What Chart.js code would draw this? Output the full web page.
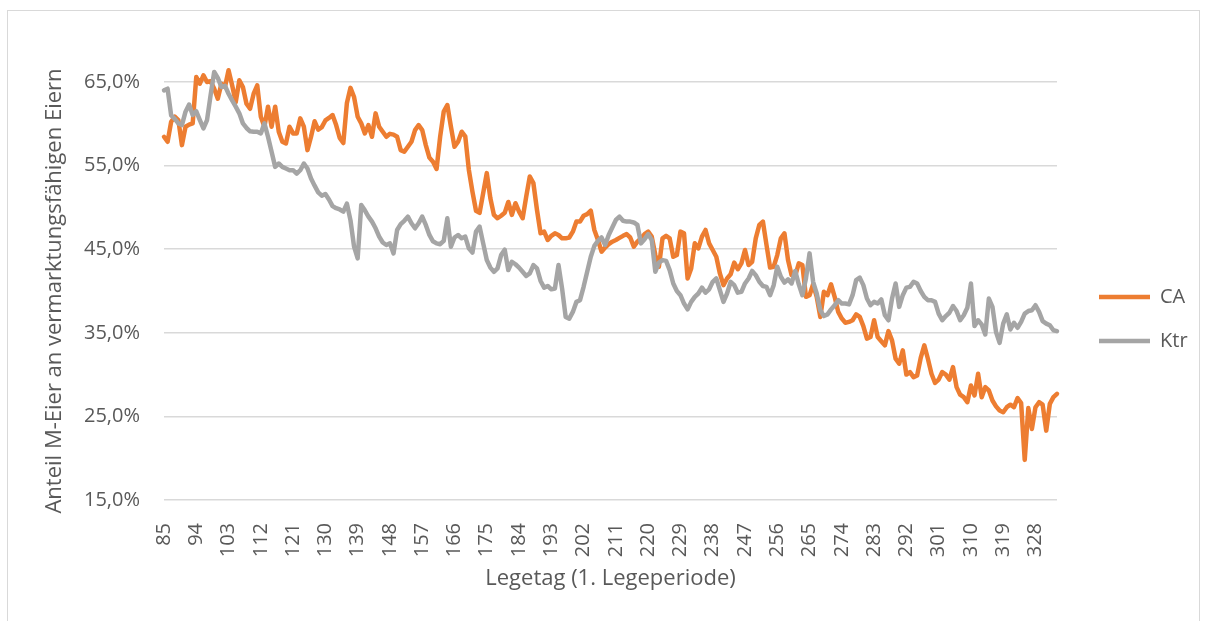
<!DOCTYPE html>
<html lang="de">
<head>
<meta charset="utf-8">
<title>Anteil M-Eier an vermarktungsfähigen Eiern</title>
<script src="https://cdn.jsdelivr.net/npm/chart.js@4.4.1/dist/chart.umd.min.js"></script>
<style>
    html, body { margin: 0; padding: 0; background: #fff; }
    body { width: 1208px; height: 621px; overflow: hidden; position: relative; }
    #frame { position: absolute; left: 7px; top: 10px; width: 1193px; height: 700px; border: 1px solid #d9d9d9; box-sizing: border-box; }
    #wrap { position: absolute; left: 0; top: 0; width: 1208px; height: 621px; }
</style>
</head>
<body>
<div id="frame"></div>
<div id="wrap"><canvas id="chartEggs" width="1208" height="621"></canvas></div>
<script>
// Legetag 85 .. 334, one value per day
const firstDay = 85;
const tickEvery = 9;

const ca = [
    58.45, 57.85, 60.25, 60.85, 60.45, 57.45, 59.65, 59.9, 60.05, 65.6,
    64.8, 65.8, 65.0, 65.1, 64.2, 63.0, 64.8, 64.4, 66.4, 64.6,
    62.6, 65.2, 64.4, 62.4, 61.8, 63.6, 64.6, 60.85, 59.65, 62.05,
    59.65, 62.05, 59.05, 57.85, 57.65, 59.65, 58.85, 58.85, 60.65, 59.65,
    56.85, 58.45, 60.3, 59.3, 59.6, 60.4, 60.7, 61.05, 59.85, 58.3,
    57.7, 62.5, 64.3, 63.2, 60.85, 60.05, 58.85, 59.85, 58.45, 61.25,
    59.65, 59.05, 58.45, 58.8, 58.7, 58.45, 56.85, 56.65, 57.25, 57.85,
    59.25, 59.85, 59.25, 57.45, 55.95, 55.45, 54.6, 58.45, 61.45, 62.25,
    59.65, 57.25, 57.85, 59.05, 58.5, 54.5, 51.9, 49.6, 49.35, 51.7,
    54.1, 51.1, 49.1, 48.7, 49.0, 49.35, 50.65, 49.1, 50.5, 49.5,
    48.7, 51.3, 53.7, 52.9, 49.7, 46.9, 47.1, 46.1, 46.6, 46.9,
    46.7, 46.3, 46.3, 46.4, 47.1, 48.3, 48.3, 49.0, 49.2, 49.6,
    47.3, 46.1, 44.7, 45.2, 45.6, 45.9, 46.1, 46.35, 46.6, 46.8,
    46.4, 45.3, 45.9, 46.3, 46.8, 47.1, 46.5, 44.3, 42.9, 46.3,
    46.6, 46.3, 44.1, 44.3, 47.1, 46.9, 41.5, 42.7, 45.7, 45.1,
    46.5, 47.3, 45.7, 44.9, 44.1, 42.1, 40.7, 41.5, 42.0, 43.4,
    42.6, 43.3, 44.9, 43.1, 43.5, 46.3, 47.9, 48.3, 45.5, 42.8,
    42.9, 44.3, 46.3, 46.9, 43.7, 41.9, 41.8, 43.3, 43.1, 39.3,
    39.5, 40.8, 39.3, 36.9, 39.9, 39.5, 40.8, 39.3, 37.5, 36.7,
    36.2, 36.3, 36.5, 37.2, 36.9, 35.8, 34.3, 34.5, 36.5, 34.5,
    34.0, 33.5, 35.2, 34.1, 31.9, 31.3, 32.9, 30.0, 30.3, 29.7,
    29.9, 32.0, 33.5, 31.9, 30.1, 29.0, 29.4, 30.3, 30.0, 29.4,
    30.9, 28.5, 27.6, 27.3, 26.7, 28.7, 27.5, 30.1, 27.3, 28.5,
    28.1, 26.9, 26.2, 25.7, 25.5, 26.1, 26.4, 26.1, 27.2, 26.6,
    19.8, 26.0, 23.5, 26.1, 26.7, 26.4, 23.3, 26.5, 27.3, 27.7
];

const ktr = [
    64.0, 64.2, 61.0, 60.6, 60.05, 59.85, 61.45, 62.3, 61.05, 61.5,
    60.45, 59.45, 60.45, 63.45, 66.2, 65.5, 64.4, 64.55, 63.6, 62.8,
    62.05, 61.25, 60.05, 59.5, 59.1, 59.05, 59.05, 58.85, 60.05, 58.45,
    56.65, 54.85, 55.25, 54.85, 54.65, 54.45, 54.45, 54.05, 54.45, 55.25,
    54.65, 53.45, 52.6, 51.8, 51.4, 51.6, 50.95, 50.15, 49.9, 49.75,
    49.5, 50.45, 48.45, 45.3, 43.9, 50.3, 49.65, 48.9, 48.3, 47.5,
    46.5, 45.8, 45.5, 45.7, 44.5, 47.3, 48.0, 48.4, 48.9, 48.1,
    47.5, 48.1, 48.9, 47.9, 46.7, 45.95, 45.7, 45.6, 46.0, 48.7,
    45.3, 46.4, 46.7, 46.3, 46.5, 45.1, 44.6, 47.1, 47.7, 45.7,
    43.7, 42.8, 42.3, 42.7, 44.3, 44.95, 42.5, 43.5, 43.2, 42.8,
    42.3, 41.8, 42.1, 43.1, 42.7, 41.2, 40.4, 40.6, 40.2, 40.3,
    43.1, 40.3, 36.9, 36.7, 37.5, 38.7, 38.9, 40.5, 42.3, 44.1,
    45.4, 46.0, 46.4, 45.5, 46.7, 47.6, 48.5, 48.9, 48.4, 48.3,
    48.3, 48.2, 47.9, 45.7, 46.2, 46.8, 46.1, 42.3, 43.4, 43.7,
    43.6, 42.5, 40.9, 40.0, 39.5, 38.5, 37.8, 38.7, 39.3, 39.7,
    40.4, 39.8, 40.2, 41.1, 41.5, 40.1, 38.7, 39.7, 41.1, 40.7,
    39.8, 39.9, 40.9, 41.5, 42.4, 41.9, 41.1, 40.6, 40.5, 39.5,
    40.7, 42.9, 41.7, 41.0, 41.4, 40.9, 42.4, 40.8, 39.5, 41.5,
    44.5, 41.1, 39.7, 37.7, 37.0, 37.2, 37.8, 38.3, 38.9, 38.5,
    38.5, 38.4, 39.5, 41.3, 41.6, 40.7, 39.1, 38.3, 38.7, 38.5,
    39.0, 37.1, 36.5, 39.1, 40.9, 38.1, 39.5, 40.4, 40.5, 41.1,
    40.9, 40.0, 39.3, 38.9, 38.9, 38.7, 37.3, 36.5, 37.0, 37.4,
    38.2, 37.6, 36.5, 37.1, 38.0, 40.9, 35.8, 36.5, 36.0, 34.8,
    39.1, 38.1, 35.1, 33.8, 36.1, 37.2, 35.4, 36.2, 35.6, 36.3,
    37.3, 37.6, 37.7, 38.3, 37.5, 36.4, 36.1, 35.9, 35.3, 35.2
];

const days = ca.map((v, i) => String(firstDay + i));

const fontFamily = "'Open Sans', sans-serif";
const textColor = '#595959';
const gridColor = '#d9d9d9';

// target plot box
const plotLeft = 164;
const plotRight = 1057;
const plotBottom = 500;
const pad = {left: 30, top: 82, right: 8, bottom: 20};

// the legend sits a bit away from the plot and a little above the middle
const legendPlacer = {
    id: 'legendPlacer',
    afterLayout(chart) {
        const lg = chart.legend;
        if (!lg) {
            return;
        }
        const w = lg.right - lg.left;
        const h = lg.bottom - lg.top;
        lg.left = chart.chartArea.right + 18;
        lg.right = lg.left + w;
        lg.top = 319 - h / 2;
        lg.bottom = lg.top + h;
    }
};

const chart = new Chart(document.getElementById('chartEggs').getContext('2d'), {
    type: 'line',
    data: {
        labels: days,
        datasets: [
            {
                label: 'CA',
                data: ca,
                borderColor: '#ED7D31',
                backgroundColor: '#ED7D31',
                borderWidth: 4.5,
                borderJoinStyle: 'round',
                borderCapStyle: 'round',
                pointRadius: 0,
                pointHoverRadius: 0,
                tension: 0,
                fill: false,
                clip: false,
                order: 1,
            },
            {
                label: 'Ktr',
                data: ktr,
                borderColor: '#A5A5A5',
                backgroundColor: '#A5A5A5',
                borderWidth: 4.5,
                borderJoinStyle: 'round',
                borderCapStyle: 'round',
                pointRadius: 0,
                pointHoverRadius: 0,
                tension: 0,
                fill: false,
                clip: false,
                order: 0,
            }
        ]
    },
    options: {
        responsive: false,
        devicePixelRatio: 1,
        animation: false,
        layout: {padding: pad},
        plugins: {
            tooltip: {enabled: false},
            legend: {
                position: 'right',
                labels: {
                    usePointStyle: true,
                    pointStyle: 'line',
                    pointStyleWidth: 51,
                    padding: 24,
                    color: textColor,
                    font: {family: fontFamily, size: 20},
                    sort: (a, b) => a.datasetIndex - b.datasetIndex,
                },
            },
        },
        scales: {
            x: {
                grid: {display: false},
                border: {display: false},
                ticks: {
                    autoSkip: false,
                    minRotation: 90,
                    maxRotation: 90,
                    padding: 15,
                    color: textColor,
                    font: {family: fontFamily, size: 20},
                    callback: function (value, index) {
                        return index % tickEvery === 0 ? this.getLabelForValue(value) : '';
                    },
                },
                title: {
                    display: true,
                    text: 'Legetag (1. Legeperiode)',
                    color: textColor,
                    font: {family: fontFamily, size: 22},
                    padding: {top: 0, bottom: 9},
                },
                afterFit: (scale) => {
                    scale.height = 621 - pad.bottom - plotBottom;
                },
            },
            y: {
                min: 15,
                max: 65,
                grid: {color: gridColor, lineWidth: 1.5, drawTicks: false},
                border: {display: false},
                ticks: {
                    stepSize: 10,
                    padding: 24,
                    color: textColor,
                    font: {family: fontFamily, size: 20},
                    callback: (v) => v.toFixed(1).replace('.', ',') + '%',
                },
                title: {
                    display: true,
                    text: 'Anteil M-Eier an vermarktungsfähigen Eiern',
                    color: textColor,
                    font: {family: fontFamily, size: 22},
                    padding: {top: 12, bottom: 0},
                },
                afterFit: (scale) => {
                    scale.width = plotLeft - pad.left;
                },
            },
        },
    },
    plugins: [legendPlacer],
});

// legend width depends on the font, so nudge the right padding until the plot ends where it should
const drift = chart.chartArea.right - plotRight;
if (Math.abs(drift) > 0.5) {
    chart.options.layout.padding.right = pad.right + drift;
    chart.update();
}
</script>
</body>
</html>
